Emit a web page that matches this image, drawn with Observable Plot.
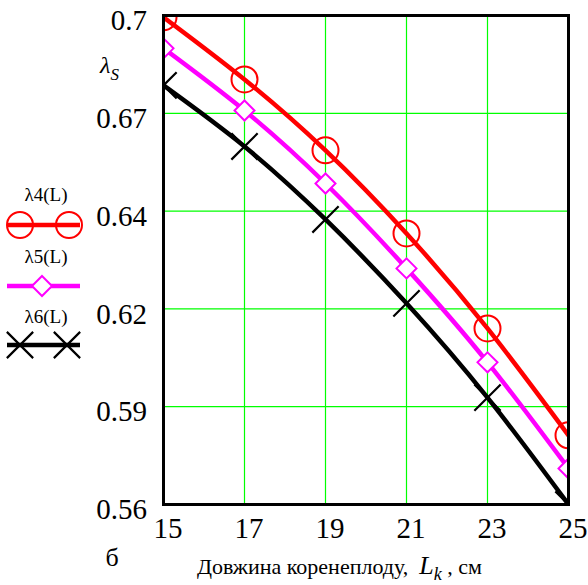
<!DOCTYPE html>
<html><head><meta charset="utf-8">
<script src="https://cdn.jsdelivr.net/npm/d3@7"></script>
<script src="https://cdn.jsdelivr.net/npm/@observablehq/plot@0.6"></script>
<style>
body{margin:0;background:#fff}
#chart{position:relative;width:588px;height:585px;overflow:hidden}
.t{position:absolute;white-space:nowrap;font-family:"Liberation Serif";line-height:1;color:#000;z-index:3}
.t i{font-style:italic;line-height:0}
</style>
</head><body><div id="chart">
<div class="t" id="xt0" style="font-size:29px"></div>
<div class="t" id="xt1" style="font-size:29px"></div>
<div class="t" id="xt2" style="font-size:29px"></div>
<div class="t" id="xt3" style="font-size:29px"></div>
<div class="t" id="xt4" style="font-size:29px"></div>
<div class="t" id="xt5" style="font-size:29px"></div>
<div class="t" id="yt0" style="font-size:29px"></div>
<div class="t" id="yt1" style="font-size:29px"></div>
<div class="t" id="yt2" style="font-size:29px"></div>
<div class="t" id="yt3" style="font-size:29px"></div>
<div class="t" id="yt4" style="font-size:29px"></div>
<div class="t" id="yt5" style="font-size:29px"></div>
<div class="t" style="font-size:22px;left:197px;top:555.6px">Довжина коренеплоду,&nbsp; <i style="font-size:26px">L</i><i style="font-size:18px;vertical-align:-6px">k</i> , см</div>
<div class="t" style="font-size:26px;left:112px;top:545px;transform:translateX(-50%)">б</div>
<div class="t" style="font-size:24px;left:100px;top:53px"><i>λ</i><i style="font-size:17px;vertical-align:-7px">S</i></div>
<div class="t" id="lg0" style="font-size:19px;left:46px;top:185px;transform:translateX(-50%)"></div>
<div class="t" id="lg1" style="font-size:19px;left:46px;top:247px;transform:translateX(-50%)"></div>
<div class="t" id="lg2" style="font-size:19px;left:46px;top:307px;transform:translateX(-50%)"></div>
</div>
<script>
const L = [15, 17, 19, 21, 23, 25];
const lambda4 = [0.6995, 0.6817, 0.6614, 0.6376, 0.6104, 0.5798];
const lambda5 = [0.6906, 0.6728, 0.6519, 0.6276, 0.6007, 0.5703];
const lambda6 = [0.6800, 0.6625, 0.6416, 0.6176, 0.5906, 0.5600];
const seriesNames = ["λ4(L)", "λ5(L)", "λ6(L)"];
const seriesColors = ["#ff0000", "#ff00ff", "#000000"];
const seriesSymbols = ["circle", "diamond2", "times"];
const xTicks = [15, 17, 19, 21, 23, 25];
const yTicks = [0.56, 0.588, 0.616, 0.644, 0.672, 0.7];
const yTickLabels = ["0.56", "0.59", "0.62", "0.64", "0.67", "0.7"];

const seriesVals = [lambda4, lambda5, lambda6];
const rows = [];
seriesVals.forEach((vals, s) => vals.forEach((v, i) => rows.push({L: L[i], v, s: seriesNames[s]})));

const markerR = [13, 9, 12];
const markerFill = ["none", "white", "none"];
const markerSW = [2, 2, 2.2];

const plot = Plot.plot({
  width: 588, height: 585,
  marginTop: 15, marginLeft: 163, marginRight: 20, marginBottom: 81,
  style: {background: "white", overflow: "visible", color: "black", position: "absolute", left: "0px", top: "0px"},
  x: {domain: [15, 25], label: null, axis: null},
  y: {domain: [0.56, 0.7], label: null, axis: null},
  color: {domain: seriesNames, range: seriesColors},
  symbol: {domain: seriesNames, range: seriesSymbols},
  marks: [
    Plot.gridX(xTicks, {stroke: "#00ff00", strokeOpacity: 1, strokeWidth: 1.2}),
    Plot.gridY(yTicks, {stroke: "#00ff00", strokeOpacity: 1, strokeWidth: 1.2}),
    Plot.line(rows, {x: "L", y: "v", z: "s", stroke: "s", strokeWidth: 4.5, curve: "natural", clip: true}),
    ...seriesNames.map((name, k) => Plot.dot(rows.filter(d => d.s === name), {
      x: "L", y: "v", stroke: "s", symbol: "s", r: markerR[k], fill: markerFill[k],
      strokeWidth: markerSW[k], clip: true
    })),
    Plot.frame({stroke: "black", strokeWidth: 3})
  ]
});
const chart = document.getElementById("chart");
chart.insertBefore(plot, chart.firstChild);
const xs = plot.scale("x"), ys = plot.scale("y");

// tick labels positioned with Plot's scales (baseline ≈ top + 0.8375em)
xTicks.forEach((t, i) => {
  const el = document.getElementById("xt" + i);
  el.textContent = String(t);
  el.style.left = (xs.apply(t) + 5) + "px";
  el.style.top = (538 - 24.3) + "px";
  el.style.transform = "translateX(-50%)";
});
yTicks.forEach((t, i) => {
  const el = document.getElementById("yt" + i);
  el.textContent = yTickLabels[i];
  el.style.left = "147px";
  el.style.top = (ys.apply(t) + 15.5 - 24.3) + "px";
  el.style.transform = "translateX(-100%)";
});
seriesNames.forEach((n, k) => { document.getElementById("lg" + k).textContent = n; });

// legend graphics
const ov = d3.select(chart).append("svg")
  .attr("width", 588).attr("height", 585)
  .style("position", "absolute").style("left", "0px").style("top", "0px");
const legY = [225, 286, 345];
const legMarkX = [[20, 69], [42], [20, 67]];
const symMap = {circle: d3.symbolCircle, diamond2: d3.symbolDiamond2, times: d3.symbolTimes};
seriesNames.forEach((name, k) => {
  ov.append("line").attr("x1", 7).attr("x2", 80).attr("y1", legY[k]).attr("y2", legY[k])
    .attr("stroke", seriesColors[k]).attr("stroke-width", 4.5);
  legMarkX[k].forEach(mx => {
    ov.append("path")
      .attr("d", d3.symbol(symMap[seriesSymbols[k]], Math.PI * markerR[k] * markerR[k])())
      .attr("transform", `translate(${mx},${legY[k]})`)
      .attr("fill", markerFill[k]).attr("stroke", seriesColors[k]).attr("stroke-width", markerSW[k]);
  });
});
</script>
</body></html>
